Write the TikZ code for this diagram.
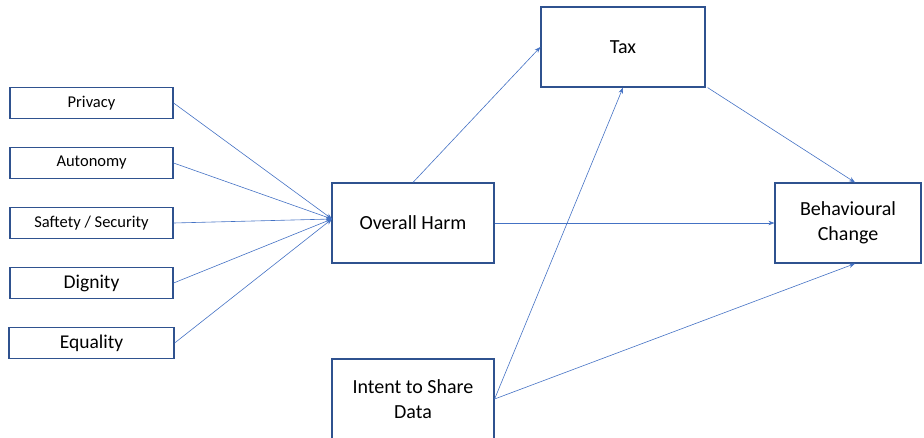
\documentclass[tikz,border=0pt]{standalone}
\usepackage{fontspec}
\setmainfont{Carlito}
\usetikzlibrary{arrows.meta}
\definecolor{boxblue}{HTML}{2F528F}
\definecolor{lineblue}{HTML}{4472C4}
\begin{document}
\begin{tikzpicture}[x=1pt, y=-1pt, >={Stealth[length=6pt,width=4.5pt]},
    every node/.style={rectangle, draw=boxblue, line width=1.2pt, fill=white, inner sep=2pt, align=center},
    small/.style={minimum width=163pt, minimum height=31pt, font=\fontsize{16.5}{19}\selectfont},
    big/.style={minimum height=80pt, font=\fontsize{20}{25}\selectfont},
    link/.style={->, draw=lineblue, line width=0.6pt}]
    \useasboundingbox (0,0) rectangle (924,437);
    %draw nodes by coordinates
    \node[small] (privacy) at (91.5,103) {Privacy};
    \node[small] (autonomy) at (91.5,163) {Autonomy};
    \node[small] (safety) at (91.5,223) {Saftety / Security};
    \node[small, font=\fontsize{19.5}{23}\selectfont] (dignity) at (91.5,283) {Dignity};
    \node[small, minimum width=165pt, font=\fontsize{19.5}{23}\selectfont] (equality) at (91.5,343) {Equality};
    \node[big, minimum width=162pt] (harm) at (413,223) {Overall Harm};
    \node[big, minimum width=162pt] (intent) at (413,399) {Intent to Share\\Data};
    \node[big, minimum width=164pt] (tax) at (623,47) {Tax};
    \node[big, minimum width=146pt] (change) at (848,223) {Behavioural\\Change};
    \coordinate (hub) at (332,219);

    % Draw edges (links)
    \draw[link] (privacy.east) -- (hub);
    \draw[link] (autonomy.east) -- (hub);
    \draw[link] (safety.east) -- (hub);
    \draw[link] (dignity.east) -- (hub);
    \draw[link] (equality.east) -- (hub);
    \draw[link] (harm.north) -- (tax.west);
    \draw[link] (harm.east) -- (change.west);
    \draw[link] (intent.east) -- (tax.south);
    \draw[link] (intent.east) -- ([xshift=7pt]change.south);
    \draw[link] ([xshift=2pt]tax.south east) -- ([xshift=7pt]change.north);
\end{tikzpicture}
\end{document}
